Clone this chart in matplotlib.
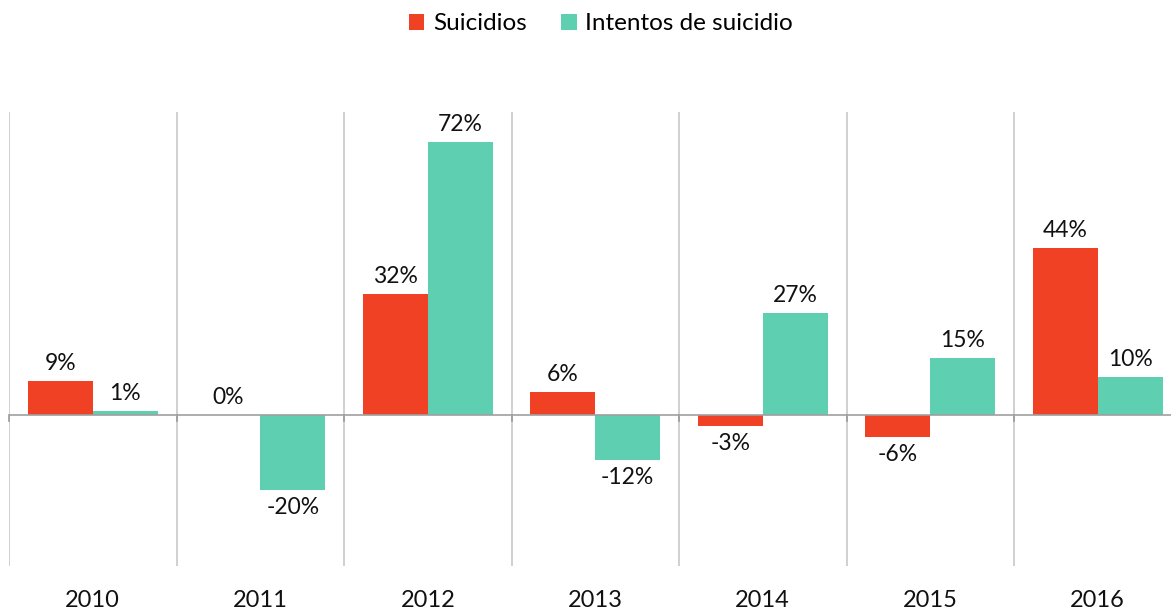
import matplotlib.pyplot as plt
import numpy as np

years = ["2010", "2011", "2012", "2013", "2014", "2015", "2016"]
suicidios = [9, 0, 32, 6, -3, -6, 44]
intentos = [1, -20, 72, -12, 27, 15, 10]
series_names = ["Suicidios", "Intentos de suicidio"]
colors = ["#F04124", "#5ECFB1"]

plt.rcParams['font.family'] = ['Lato', 'DejaVu Sans']

fig = plt.figure(figsize=(11.71, 6.11), dpi=100)
W, H = 1171, 611
left, right, top, bottom = 9, 9 + 7 * 167.5, 112, 566
ax = fig.add_axes([left / W, 1 - bottom / H, (right - left) / W, (bottom - top) / H])

x = np.arange(len(years))
bw = 0.388
b1 = ax.bar(x - bw / 2, suicidios, bw, color=colors[0], label=series_names[0], zorder=3)
b2 = ax.bar(x + bw / 2, intentos, bw, color=colors[1], label=series_names[1], zorder=3)

ax.set_xlim(-0.5, len(years) - 0.5)
ax.set_ylim(-40, 80)

for bars, vals in ((b1, suicidios), (b2, intentos)):
    for rect, v in zip(bars, vals):
        cx = rect.get_x() + rect.get_width() / 2
        if v >= 0:
            ax.annotate(f"{v}%", (cx, v), xytext=(0, 5), textcoords="offset points",
                        ha="center", va="bottom", fontsize=16.5, color="#111111")
        else:
            ax.annotate(f"{v}%", (cx, v), xytext=(0, -5), textcoords="offset points",
                        ha="center", va="top", fontsize=16.5, color="#111111")

# category separators
for b in np.arange(-0.5, len(years) + 0.5, 1):
    ax.axvline(b, color="#C8C8C8", lw=1.2, zorder=1)
    ax.plot([b, b], [0, -1.6], color="#999999", lw=1.2, zorder=2, clip_on=False)
ax.axhline(0, color="#A0A0A0", lw=1.2, zorder=4)

for s in ax.spines.values():
    s.set_visible(False)
ax.set_yticks([])
ax.set_xticks(x)
ax.set_xticklabels(years, fontsize=17, color="#111111")
ax.tick_params(axis="x", length=0, pad=17)

fig.legend(handles=[b1, b2], labels=series_names, loc="center", bbox_to_anchor=(0.513, 1 - 24 / H),
           ncol=2, frameon=False, fontsize=17.5, handlelength=0.65, handleheight=0.65,
           columnspacing=1.4, handletextpad=0.35)

fig.savefig("out.png", dpi=100)
